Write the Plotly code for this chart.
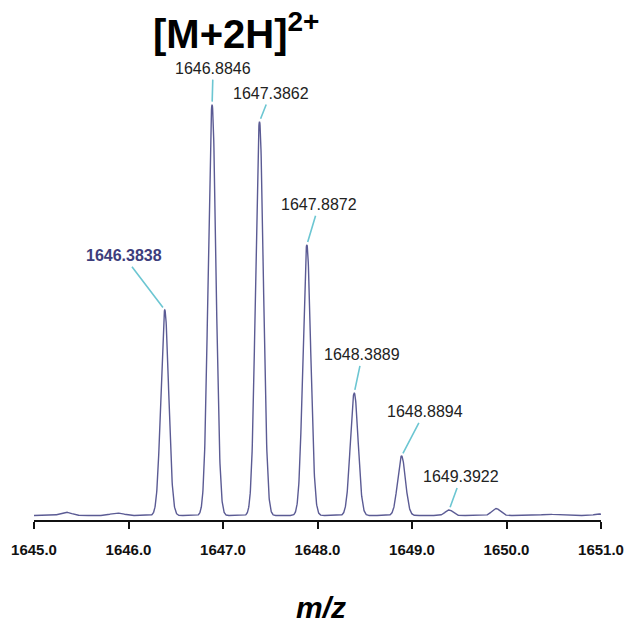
import numpy as np
import plotly.graph_objects as go

# Isotope cluster of the doubly charged ion: centroid m/z and relative intensity (%)
peak_mz = [1646.3838, 1646.8846, 1647.3862, 1647.8872, 1648.3889, 1648.8894, 1649.3922]
peak_int = [50.2, 100.0, 95.9, 66.0, 30.1, 14.8, 1.7]

# Minor features in the baseline (m/z, relative intensity %, peak width)
minor_mz = [1645.34, 1645.88, 1649.89, 1650.45, 1650.97]
minor_int = [0.8, 0.6, 1.7, 0.3, 0.4]
minor_sigma = [0.06, 0.07, 0.045, 0.08, 0.04]

# Label placement offsets (pixels) of each centroid label relative to its peak apex
label_dx = [-41, 1, 11, 12, 8, 23, 12]
label_dy = [-54, -36, -28, -40, -38, -44, -33]

tick_vals = [1645.0, 1646.0, 1647.0, 1648.0, 1649.0, 1650.0, 1651.0]

PEAK_SIGMA = 0.041
BASELINE = 0.35

# Build the profile spectrum from the centroid list
mz = np.linspace(1645.0, 1651.0, 3001)
intensity = np.full_like(mz, BASELINE)
for c, h in zip(peak_mz, peak_int):
    intensity += (h - BASELINE) * np.exp(-0.5 * ((mz - c) / PEAK_SIGMA) ** 2)
for c, h, s in zip(minor_mz, minor_int, minor_sigma):
    intensity += h * np.exp(-0.5 * ((mz - c) / s) ** 2)

W, H = 624, 625
L, R, T, B = 34, 23, 84, 105
pw, ph = W - L - R, H - T - B

fig = go.Figure()
fig.add_trace(go.Scatter(
    x=mz, y=intensity, mode="lines",
    line=dict(color="#5b5b94", width=1.4),
    hoverinfo="skip", showlegend=False,
))

annotations = []
for i, (c, h) in enumerate(zip(peak_mz, peak_int)):
    first = i == 0
    annotations.append(dict(
        x=c, y=h, xref="x", yref="y",
        text=f"{c:.4f}",
        showarrow=True, arrowhead=0, arrowwidth=1.6, arrowcolor="#6cc6d2",
        ax=label_dx[i], ay=label_dy[i], standoff=3, startstandoff=1,
        font=dict(family="Liberation Sans, Arial, sans-serif", size=16,
                  color="#3d3d7c" if first else "#222222",
                  weight="bold" if first else "normal"),
    ))

# Ion title at the top and the m/z axis title at the bottom (pixel positions -> paper)
annotations.append(dict(
    x=(236 - L) / pw, y=(H - 31 - B) / ph, xref="paper", yref="paper",
    text="[M+2H]<sup>2+</sup>", showarrow=False,
    font=dict(family="Liberation Sans, Arial, sans-serif", size=40, color="#000000", weight="bold"),
    xanchor="center", yanchor="middle",
))
annotations.append(dict(
    x=(321 - L) / pw, y=(H - 607 - B) / ph, xref="paper", yref="paper",
    text="<b><i>m/z</i></b>", showarrow=False,
    font=dict(family="Liberation Sans, Arial, sans-serif", size=30, color="#000000"),
    xanchor="center", yanchor="middle",
))

fig.update_layout(
    width=W, height=H,
    margin=dict(l=L, r=R, t=T, b=B, pad=0, autoexpand=False),
    paper_bgcolor="white", plot_bgcolor="white",
    annotations=annotations,
    xaxis=dict(
        range=[1645.0, 1651.0], tickvals=tick_vals, tickformat=".1f",
        automargin=False,
        showgrid=False, zeroline=False,
        showline=True, linecolor="#111111", linewidth=2,
        ticks="outside", ticklen=7, tickwidth=2, tickcolor="#111111",
        tickfont=dict(family="Liberation Sans, Arial, sans-serif", size=15, color="#111111", weight="bold"),
        ticklabelstandoff=8,
    ),
    yaxis=dict(
        range=[-0.73, 105.0], visible=False, showgrid=False, zeroline=False,
        automargin=False,
    ),
)

fig.write_html("out.html")
